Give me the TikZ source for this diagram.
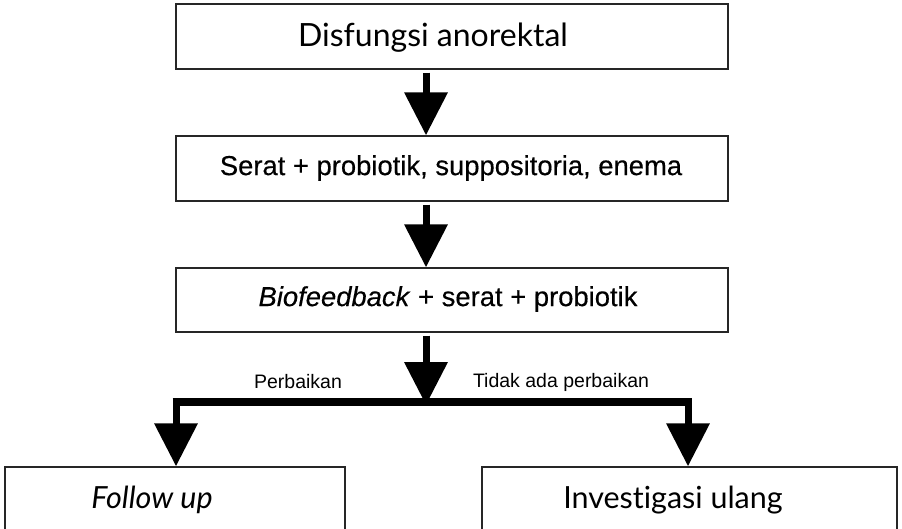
\documentclass[tikz,border=0pt]{standalone}
\usepackage{fontspec}
\setmainfont{Liberation Sans}
\newfontfamily\humanist[Ligatures={NoCommon}]{Lato}
\newfontfamily\heavysans[FakeBold=0.35]{Liberation Sans}
\usetikzlibrary{arrows.meta}
\begin{document}
\begin{tikzpicture}[x=1pt,y=-1pt,
  box/.style={draw=black!85,line width=1.4pt,fill=white,rectangle,inner sep=0pt},
  flow/.style={line width=7pt,-{Triangle[width=42pt,length=43pt]},shorten <=3pt},
  bar/.style={line width=7.5pt,line cap=butt},
  boxtext/.style={inner sep=0pt,anchor=center},
  branchlabel/.style={inner sep=0pt,anchor=center,font=\fontsize{19.5pt}{22pt}\selectfont}]
\useasboundingbox (0,0) rectangle (902,529);
% boxes
\node[box,minimum width=552pt,minimum height=65pt] (b1) at (452,36.5) {};
\node[box,minimum width=552pt,minimum height=65pt] (b2) at (452,168.5) {};
\node[box,minimum width=552pt,minimum height=64pt] (b3) at (452,300) {};
\node[box,minimum width=340pt,minimum height=100pt] (b4) at (175,517) {};
\node[box,minimum width=415pt,minimum height=100pt] (b5) at (689.5,517) {};
% box texts
\node[boxtext,font=\humanist\fontsize{32pt}{38pt}\selectfont] (t1) at (433,38) {Disfungsi anorektal};
\node[boxtext,font=\heavysans\fontsize{27.4pt}{32pt}\selectfont] (t2) at (451,168) {Serat + probiotik, suppositoria, enema};
\node[boxtext,font=\heavysans\fontsize{27.4pt}{32pt}\selectfont] (t3) at (448,299) {\textit{Biofeedback} + serat + probiotik};
\node[boxtext,font=\humanist\itshape\fontsize{30.5pt}{36pt}\selectfont] (t4) at (152,500) {Follow up};
\node[boxtext,font=\humanist\fontsize{30.5pt}{36pt}\selectfont] (t5) at (673,500) {Investigasi ulang};
% arrow column and branch points
\coordinate (ax) at (426,0);
\coordinate (split) at (426,402);
\coordinate (lsplit) at (176,402);
\coordinate (rsplit) at (688,402);
\draw[flow] (b1.south -| ax) -- (b2.north -| ax);
\draw[flow] (b2.south -| ax) -- (b3.north -| ax);
\draw[flow] (b3.south -| ax) -- ([yshift=-3pt]split);
\draw[bar] ([xshift=-3.5pt]lsplit) -- ([xshift=3.5pt]rsplit);
\draw[flow,shorten <=0pt] ([yshift=-3.5pt]lsplit) -- (b4.north -| lsplit);
\draw[flow,shorten <=0pt] ([yshift=-3.5pt]rsplit) -- (b5.north -| rsplit);
% branch labels
\node[branchlabel] (l1) at (298,382) {Perbaikan};
\node[branchlabel] (l2) at (561,382) {Tidak ada perbaikan};
\end{tikzpicture}
\end{document}
